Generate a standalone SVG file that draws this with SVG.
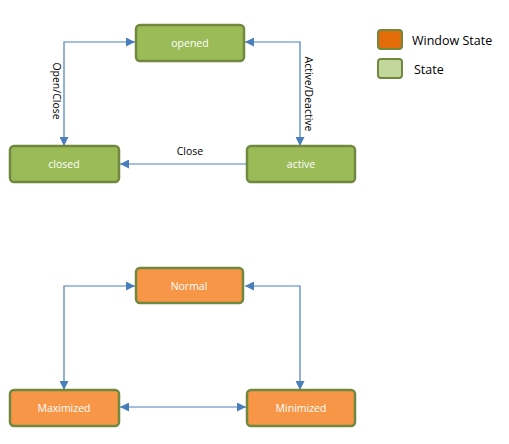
<svg xmlns="http://www.w3.org/2000/svg" width="509" height="444" viewBox="0 0 509 444">
<style>
.g{fill:#9BBB59;stroke:#71893F;stroke-width:2.5}
.o{fill:#F79646;stroke:#71893F;stroke-width:2.5}
.t{font-family:"Open Sans","Liberation Sans",sans-serif;font-size:10.5px;fill:#fff;text-anchor:middle;dominant-baseline:central}
.l{font-family:"Open Sans","Liberation Sans",sans-serif;font-size:10.5px;fill:#000;text-anchor:middle;dominant-baseline:central}
.lg{font-family:"Open Sans","Liberation Sans",sans-serif;font-size:12.5px;fill:#000;dominant-baseline:central}
.c{fill:none;stroke:#4A7EBB;stroke-width:1.2}
</style>
<defs>
<marker id="a" viewBox="0 0 10 10" refX="10" refY="5" markerWidth="9" markerHeight="9" markerUnits="userSpaceOnUse" orient="auto-start-reverse">
<path d="M0,0 L10,5 L0,10 z" fill="#4A7EBB"/>
</marker>
</defs>
<rect width="509" height="444" fill="#fff"/>
<g id="connectors">
<path class="c" d="M64,146 V42 H135" marker-start="url(#a)" marker-end="url(#a)"/>
<path class="c" d="M300,146 V42 H245" marker-start="url(#a)" marker-end="url(#a)"/>
<path class="c" d="M247,164 H120" marker-end="url(#a)"/>
<path class="c" d="M64,390 V286 H135" marker-start="url(#a)" marker-end="url(#a)"/>
<path class="c" d="M300,390 V286 H245" marker-start="url(#a)" marker-end="url(#a)"/>
<path class="c" d="M120,407 H246" marker-start="url(#a)" marker-end="url(#a)"/>
<text class="l" x="190" y="151">Close</text>
<text class="l" transform="translate(57,91) rotate(90)">Open/Close</text>
<text class="l" transform="translate(309,94) rotate(90)">Active/Deactive</text>
</g>
<g id="opened"><rect class="g" x="136" y="25" width="108" height="36" rx="4"/><text class="t" x="190" y="43">opened</text></g>
<g id="closed"><rect class="g" x="10" y="146" width="109" height="36" rx="4"/><text class="t" x="64" y="164">closed</text></g>
<g id="active"><rect class="g" x="247" y="146" width="108" height="36" rx="4"/><text class="t" x="301" y="164">active</text></g>
<g id="normal"><rect class="o" x="136" y="268" width="107" height="35" rx="4"/><text class="t" x="189" y="286">Normal</text></g>
<g id="maximized"><rect class="o" x="10" y="390" width="109" height="36" rx="4"/><text class="t" x="64" y="408">Maximized</text></g>
<g id="minimized"><rect class="o" x="247" y="390" width="108" height="36" rx="4"/><text class="t" x="301" y="408">Minimized</text></g>
<g id="legend">
<rect x="378" y="30" width="24" height="19" rx="3" fill="#E36C09" stroke="#71893F" stroke-width="2"/>
<text class="lg" x="412" y="40">Window State</text>
<rect x="378" y="59" width="24" height="19" rx="3" fill="#C3D69B" stroke="#71893F" stroke-width="2"/>
<text class="lg" x="414" y="69">State</text>
</g>
</svg>
